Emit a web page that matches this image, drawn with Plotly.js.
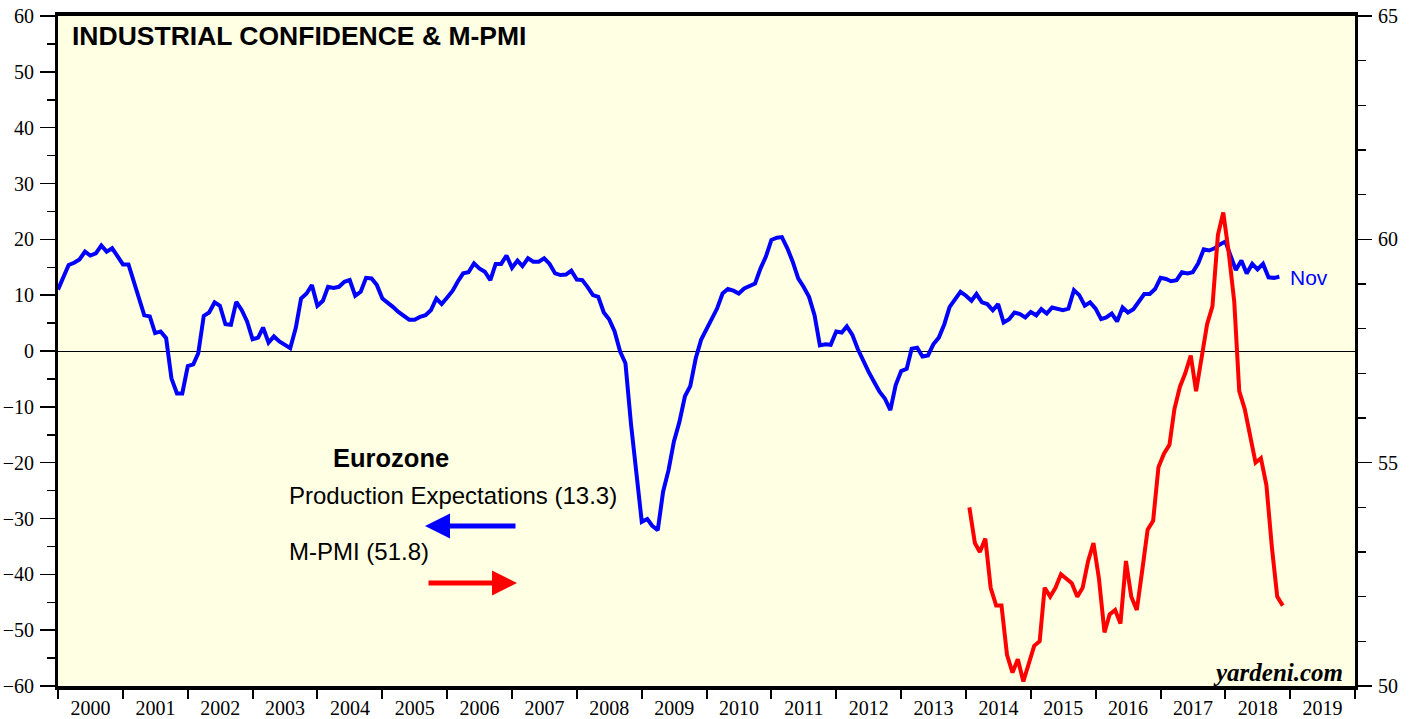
<!DOCTYPE html>
<html>
<head>
<meta charset="utf-8">
<script src="https://cdn.plot.ly/plotly-3.0.1.min.js"></script>
<style>
  html, body { margin: 0; padding: 0; background: #ffffff; }
  #chart { width: 1413px; height: 719px; }
</style>
</head>
<body>
<div id="chart"></div>
<script>
// ---- Data ----
// Eurozone Production Expectations, monthly, Jan 2000 .. Nov 2018 (left axis)
const prodStart = [2000, 1];
const prodExpectations = [
  11.0, 13.3, 15.4, 15.8, 16.4, 17.8, 17.1, 17.5, 18.9, 17.8, 18.4, 17.0,
  15.5, 15.5, 12.7, 9.1, 6.4, 6.2, 3.2, 3.5, 2.3, -4.9, -7.6, -7.6,
  -2.7, -2.4, -0.4, 6.3, 6.9, 8.7, 8.1, 4.8, 4.7, 8.8, 7.3, 5.3,
  2.1, 2.4, 4.2, 1.5, 2.6, 1.7, 1.2, 0.5, 4.1, 9.4, 10.3, 11.8,
  8.1, 9.0, 11.5, 11.3, 11.5, 12.4, 12.7, 9.9, 10.6, 13.1, 13.0, 11.8,
  9.4, 8.7, 7.9, 7.0, 6.4, 5.6, 5.6, 6.1, 6.4, 7.3, 9.4, 8.4,
  9.6, 10.8, 12.4, 13.9, 14.1, 15.7, 14.8, 14.2, 12.7, 15.6, 15.6, 17.1,
  14.9, 16.2, 15.2, 16.6, 16.0, 16.0, 16.6, 15.6, 13.9, 13.6, 13.7, 14.4,
  12.8, 12.7, 11.5, 10.0, 9.7, 6.9, 5.7, 3.5, -0.1, -2.2, -13.0, -22.5,
  -30.6, -30.1, -31.3, -32.1, -25.2, -21.3, -16.2, -12.7, -8.1, -6.3, -1.3, 2.0,
  4.0, 5.8, 7.6, 10.3, 11.1, 10.8, 10.3, 11.2, 11.6, 12.1, 14.8, 16.9,
  19.9, 20.3, 20.4, 18.4, 16.0, 13.0, 11.5, 9.7, 6.4, 1.0, 1.2, 1.1,
  3.5, 3.3, 4.4, 2.9, 0.4, -1.9, -3.7, -5.5, -7.3, -8.5, -10.6, -6.1,
  -3.6, -3.2, 0.4, 0.6, -1.0, -0.8, 1.2, 2.4, 4.8, 7.9, 9.3, 10.6,
  9.9, 9.0, 10.2, 8.7, 8.4, 7.3, 8.4, 5.1, 5.7, 6.9, 6.6, 6.0,
  7.0, 6.4, 7.5, 6.7, 7.8, 7.6, 7.3, 7.6, 10.9, 10.0, 8.1, 8.7,
  7.6, 5.7, 6.0, 6.7, 5.3, 7.8, 6.9, 7.5, 9.0, 10.2, 10.2, 11.1,
  13.1, 12.9, 12.5, 12.7, 14.1, 13.9, 14.1, 15.7, 18.2, 18.0, 18.4, 19.1,
  19.6, 17.1, 14.5, 16.2, 13.9, 15.6, 14.6, 15.6, 13.2, 13.1, 13.3
];

// Eurozone Manufacturing PMI, monthly, Jan 2014 .. Nov 2018 (right axis)
const pmiStart = [2014, 1];
const mPmi = [
  54.0, 53.2, 53.0, 53.3, 52.2, 51.8, 51.8, 50.7, 50.3, 50.6, 50.1, 50.5,
  50.9, 51.0, 52.2, 52.0, 52.2, 52.5, 52.4, 52.3, 52.0, 52.2, 52.8, 53.2,
  52.4, 51.2, 51.6, 51.7, 51.4, 52.8, 52.0, 51.7, 52.6, 53.5, 53.7, 54.9,
  55.2, 55.4, 56.2, 56.7, 57.0, 57.4, 56.6, 57.4, 58.1, 58.5, 60.1, 60.6,
  59.7, 58.6, 56.6, 56.2, 55.6, 55.0, 55.1, 54.5, 53.1, 52.0, 51.8
];

const yearTicks = ['2000','2001','2002','2003','2004','2005','2006','2007','2008','2009',
                   '2010','2011','2012','2013','2014','2015','2016','2017','2018','2019'];

const chartTitle = 'INDUSTRIAL CONFIDENCE & M-PMI';
const groupLabel = 'Eurozone';
const prodLabel = 'Production Expectations (13.3)';
const pmiLabel = 'M-PMI (51.8)';
const lastLabel = 'Nov';
const sourceLabel = 'yardeni.com';

// ---- Build monthly dates ----
function monthDates(start, n, day) {
  const out = [];
  let y = start[0], m = start[1];
  for (let i = 0; i < n; i++) {
    out.push(y + '-' + String(m).padStart(2, '0') + '-' + String(day).padStart(2, '0'));
    m++; if (m > 12) { m = 1; y++; }
  }
  return out;
}
const prodDates = monthDates(prodStart, prodExpectations.length, 1);
const pmiDates = monthDates(pmiStart, mPmi.length, 20);

const BLUE = '#0000ff';
const RED = '#ff0000';
const SERIF = '"Liberation Serif", "Times New Roman", serif';
const SANS = '"Liberation Sans", Arial, sans-serif';

const traces = [
  {
    x: prodDates, y: prodExpectations, type: 'scatter', mode: 'lines',
    line: { color: BLUE, width: 4 }, yaxis: 'y', name: prodLabel,
    hoverinfo: 'skip'
  },
  {
    x: pmiDates, y: mPmi, type: 'scatter', mode: 'lines',
    line: { color: RED, width: 4 }, yaxis: 'y2', name: pmiLabel,
    hoverinfo: 'skip'
  }
];

// plot area in pixels: x 58..1355, y 16..686
const layout = {
  width: 1413, height: 719,
  margin: { l: 58, r: 58, t: 16, b: 33, pad: 0 },
  paper_bgcolor: '#ffffff',
  plot_bgcolor: '#ffffe3',
  showlegend: false,
  title: {
    text: '<b>' + chartTitle + '</b>',
    font: { family: SANS, size: 26.5, color: '#000000' },
    xref: 'container', yref: 'container',
    x: 72 / 1413, y: 1 - 36 / 719, xanchor: 'left', yanchor: 'middle'
  },
  xaxis: {
    type: 'date',
    range: ['2000-01-01', '2020-01-01'],
    tick0: '2000-01-01', dtick: 'M12',
    ticklabelmode: 'period',
    tickformat: '%Y',
    ticks: 'outside', ticklen: 9, tickwidth: 2, tickcolor: '#000000',
    showline: true, linecolor: '#000000', linewidth: 4, mirror: true,
    showgrid: false, zeroline: false,
    tickfont: { family: SERIF, size: 20, color: '#000000' },
    ticklabelstandoff: -8,
    fixedrange: true
  },
  yaxis: {
    range: [-60, 60], dtick: 10, tick0: 0,
    ticks: 'outside', ticklen: 15, tickwidth: 1.5, tickcolor: '#000000',
    minor: { dtick: 5, ticks: 'outside', ticklen: 8, tickwidth: 1.5, tickcolor: '#000000', showgrid: false },
    showline: true, linecolor: '#000000', linewidth: 3, mirror: true,
    showgrid: false,
    zeroline: true, zerolinecolor: '#000000', zerolinewidth: 1,
    tickfont: { family: SERIF, size: 20, color: '#000000' },
    ticklabelstandoff: 2,
    fixedrange: true
  },
  yaxis2: {
    overlaying: 'y', side: 'right',
    range: [50, 65], dtick: 5, tick0: 50,
    ticks: 'outside', ticklen: 14, tickwidth: 1.5, tickcolor: '#000000',
    minor: { dtick: 1, ticks: 'outside', ticklen: 8, tickwidth: 1.5, tickcolor: '#000000', showgrid: false },
    showline: true, linecolor: '#000000', linewidth: 3,
    showgrid: false, zeroline: false,
    tickfont: { family: SERIF, size: 20, color: '#000000' },
    ticklabelstandoff: 2,
    fixedrange: true
  },
  annotations: [
    { text: '<b>' + groupLabel + '</b>', xref: 'paper', yref: 'paper',
      x: (331 - 58) / 1297, y: (686 - 458) / 670, xanchor: 'left', yanchor: 'middle',
      showarrow: false, font: { family: SANS, size: 25.5, color: '#000000' } },
    { text: prodLabel, xref: 'paper', yref: 'paper',
      x: (287 - 58) / 1297, y: (686 - 495) / 670, xanchor: 'left', yanchor: 'middle',
      showarrow: false, font: { family: SANS, size: 24, color: '#000000' } },
    { text: pmiLabel, xref: 'paper', yref: 'paper',
      x: (287 - 58) / 1297, y: (686 - 551) / 670, xanchor: 'left', yanchor: 'middle',
      showarrow: false, font: { family: SANS, size: 24, color: '#000000' } },
    // blue arrow pointing left (to left axis)
    { text: '', xref: 'paper', yref: 'paper',
      x: (425 - 58) / 1297, y: (686 - 526) / 670,
      ax: 92, ay: 0, axref: 'pixel', ayref: 'pixel',
      showarrow: true, arrowhead: 2, arrowsize: 1, arrowwidth: 5, arrowcolor: BLUE },
    // red arrow pointing right (to right axis)
    { text: '', xref: 'paper', yref: 'paper',
      x: (517 - 58) / 1297, y: (686 - 583) / 670,
      ax: -90, ay: 0, axref: 'pixel', ayref: 'pixel',
      showarrow: true, arrowhead: 2, arrowsize: 1, arrowwidth: 5, arrowcolor: RED },
    { text: lastLabel, xref: 'paper', yref: 'paper',
      x: (1288 - 58) / 1297, y: (686 - 277) / 670, xanchor: 'left', yanchor: 'middle',
      showarrow: false, font: { family: SANS, size: 21, color: BLUE } },
    { text: '<b><i>' + sourceLabel + '</i></b>', xref: 'paper', yref: 'paper',
      x: (1345 - 58) / 1297, y: (686 - 672) / 670, xanchor: 'right', yanchor: 'middle',
      showarrow: false, font: { family: SERIF, size: 25, color: '#000000' } }
  ]
};

Plotly.newPlot('chart', traces, layout, { staticPlot: true, displayModeBar: false });
</script>
</body>
</html>
